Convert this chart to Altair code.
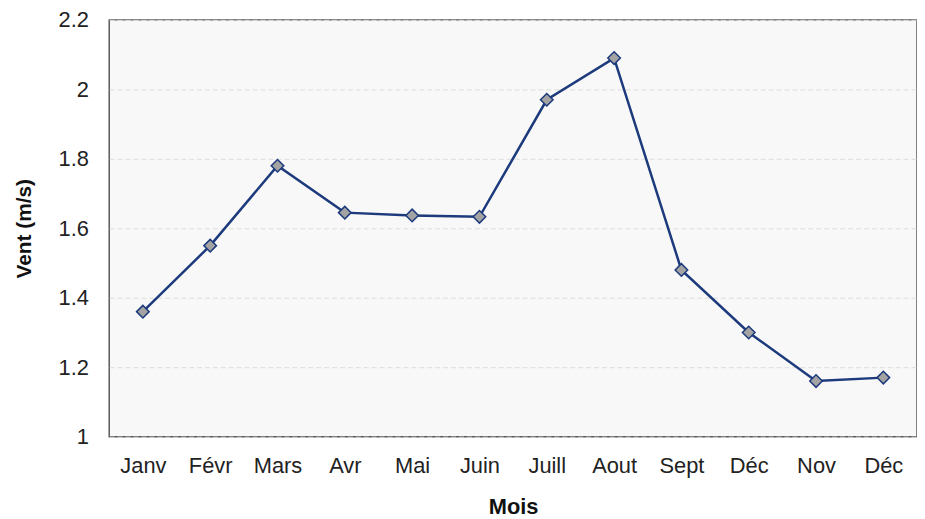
import altair as alt
import pandas as pd

months = ["Janv", "Févr", "Mars", "Avr", "Mai", "Juin", "Juill", "Aout", "Sept", "Déc", "Nov", "Déc"]
vent = [1.36, 1.55, 1.78, 1.645, 1.637, 1.633, 1.97, 2.09, 1.48, 1.30, 1.16, 1.17]
y_ticks = [1, 1.2, 1.4, 1.6, 1.8, 2, 2.2]

keys = [f"{i}|{m}" for i, m in enumerate(months)]
df = pd.DataFrame({"key": keys, "vent": vent})

FONT = "Liberation Sans"

x = alt.X("key:N", sort=keys, title="Mois",
          scale=alt.Scale(type="point", padding=0.5),
          axis=alt.Axis(labelExpr="split(datum.label, '|')[1]", labelAngle=0,
                        labelFontSize=22, labelColor="#222222", labelFont=FONT,
                        labelPadding=19, ticks=False, domain=False, grid=False,
                        titleFontSize=22, titleFont=FONT, titleFontWeight="bold",
                        titleColor="#111111", titlePadding=20))
y = alt.Y("vent:Q", title="Vent (m/s)",
          scale=alt.Scale(domain=[1, 2.2], nice=False, zero=False),
          axis=alt.Axis(values=y_ticks,
                        labelExpr="format(datum.value, '~g')",
                        labelFontSize=22, labelColor="#222222", labelFont=FONT,
                        labelPadding=21, ticks=False, domain=False,
                        grid=True, gridColor="#dcdcdc", gridDash=[5, 3], gridWidth=1,
                        titleFontSize=21, titleFont=FONT, titleFontWeight="bold",
                        titleColor="#111111", titlePadding=24))

line = alt.Chart(df).mark_line(color="#1c3a7c", strokeWidth=2.5).encode(x=x, y=y)
pts = alt.Chart(df).mark_point(shape="diamond", filled=True, size=160,
                               fill="#a3a3a3", stroke="#1c3a7c", strokeWidth=1.5,
                               opacity=1).encode(x=x, y=y)

chart = (line + pts).properties(
    width=814, height=420,
    autosize=alt.AutoSizeParams(type="none"),
    padding={"left": 102, "top": 10, "right": 0, "bottom": 81},
).configure_view(fill="#f8f8f8", stroke="#5a5a5a", strokeWidth=1.5)

chart.save("out.html", embed_options={"renderer": "svg", "actions": False})
